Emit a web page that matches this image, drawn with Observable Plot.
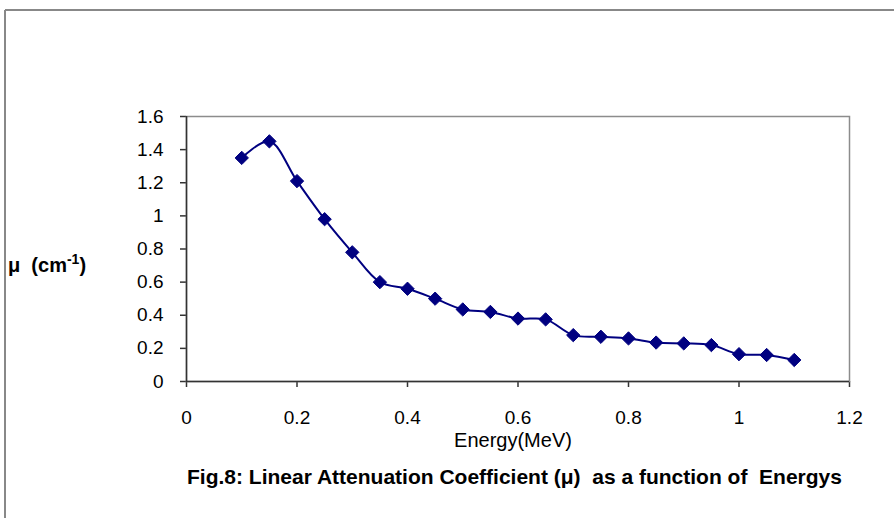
<!DOCTYPE html>
<html>
<head>
<meta charset="utf-8">
<script src="https://cdn.jsdelivr.net/npm/d3@7"></script>
<script src="https://cdn.jsdelivr.net/npm/@observablehq/plot@0.6"></script>
<style>
  html, body { margin: 0; padding: 0; background: #fff; }
  #chart { width: 894px; height: 518px; position: relative; }
</style>
</head>
<body>
<div id="chart"></div>
<script>
const energy = [0.1, 0.15, 0.2, 0.25, 0.3, 0.35, 0.4, 0.45, 0.5, 0.55, 0.6, 0.65, 0.7, 0.75, 0.8, 0.85, 0.9, 0.95, 1.0, 1.05, 1.1];
const mu     = [1.35, 1.45, 1.21, 0.98, 0.78, 0.60, 0.56, 0.50, 0.435, 0.42, 0.38, 0.375, 0.28, 0.27, 0.26, 0.235, 0.23, 0.22, 0.165, 0.16, 0.13];
const xTicks = [0, 0.2, 0.4, 0.6, 0.8, 1, 1.2];
const yTicks = [0, 0.2, 0.4, 0.6, 0.8, 1, 1.2, 1.4, 1.6];
const xLabel = "Energy(MeV)";
const yLabel = "μ\u00a0 (cm";
const ySup = "-1";
const caption = "Fig.8: Linear Attenuation Coefficient (μ)  as a function of  Energys";

const data = energy.map((e, i) => ({energy: e, mu: mu[i]}));
const navy = "#000080";
const font = "'Liberation Sans', Arial, sans-serif";

const chart = Plot.plot({
  width: 894,
  height: 518,
  marginLeft: 186,
  marginRight: 45,
  marginTop: 116,
  marginBottom: 137,
  style: {fontFamily: font, fontSize: "19px", color: "#000", background: "#fff"},
  x: {domain: [0, 1.2], ticks: xTicks, tickFormat: d => String(d), label: null, tickSize: 6, tickPadding: 23},
  y: {domain: [0, 1.6], ticks: yTicks, tickFormat: d => String(d), label: null, tickSize: 6, tickPadding: 17},
  marks: [
    Plot.frame({stroke: "#8c8c8c", strokeWidth: 1.5}),
    Plot.ruleX([0], {stroke: "#333", strokeWidth: 1.5}),
    Plot.ruleY([0], {stroke: "#333", strokeWidth: 1.5}),
    Plot.line(data, {x: "energy", y: "mu", stroke: navy, strokeWidth: 2, curve: "catmull-rom"}),
    Plot.dot(data, {x: "energy", y: "mu", symbol: "diamond2", r: 6, fill: navy, stroke: navy, strokeWidth: 1})
  ]
});

const svg = d3.select(chart);
svg.selectAll("[aria-label='x-axis tick'], [aria-label='y-axis tick']").attr("stroke", "#333").attr("stroke-width", 1.5);

// outer frame (top and left edge)
svg.append("line").attr("x1", 5).attr("y1", 10).attr("x2", 894).attr("y2", 10).attr("stroke", "#888").attr("stroke-width", 2);
svg.append("line").attr("x1", 5).attr("y1", 10).attr("x2", 5).attr("y2", 518).attr("stroke", "#888").attr("stroke-width", 2);

// axis title
svg.append("text").attr("x", 513).attr("y", 447).attr("text-anchor", "middle")
  .attr("font-family", font).attr("font-size", 20).attr("fill", "#000").text(xLabel);

// y label with superscript
const yl = svg.append("text").attr("x", 8).attr("y", 272).attr("text-anchor", "start")
  .attr("font-family", font).attr("font-size", 20).attr("font-weight", "bold").attr("fill", "#000");
yl.append("tspan").text(yLabel);
yl.append("tspan").attr("dy", -8).attr("font-size", 14).text(ySup);
yl.append("tspan").attr("dy", 8).text(")");

// caption
svg.append("text").attr("x", 187).attr("y", 484).attr("text-anchor", "start")
  .attr("font-family", font).attr("font-size", 21).attr("font-weight", "bold").attr("fill", "#000").text(caption);

document.getElementById("chart").appendChild(chart);
</script>
</body>
</html>
